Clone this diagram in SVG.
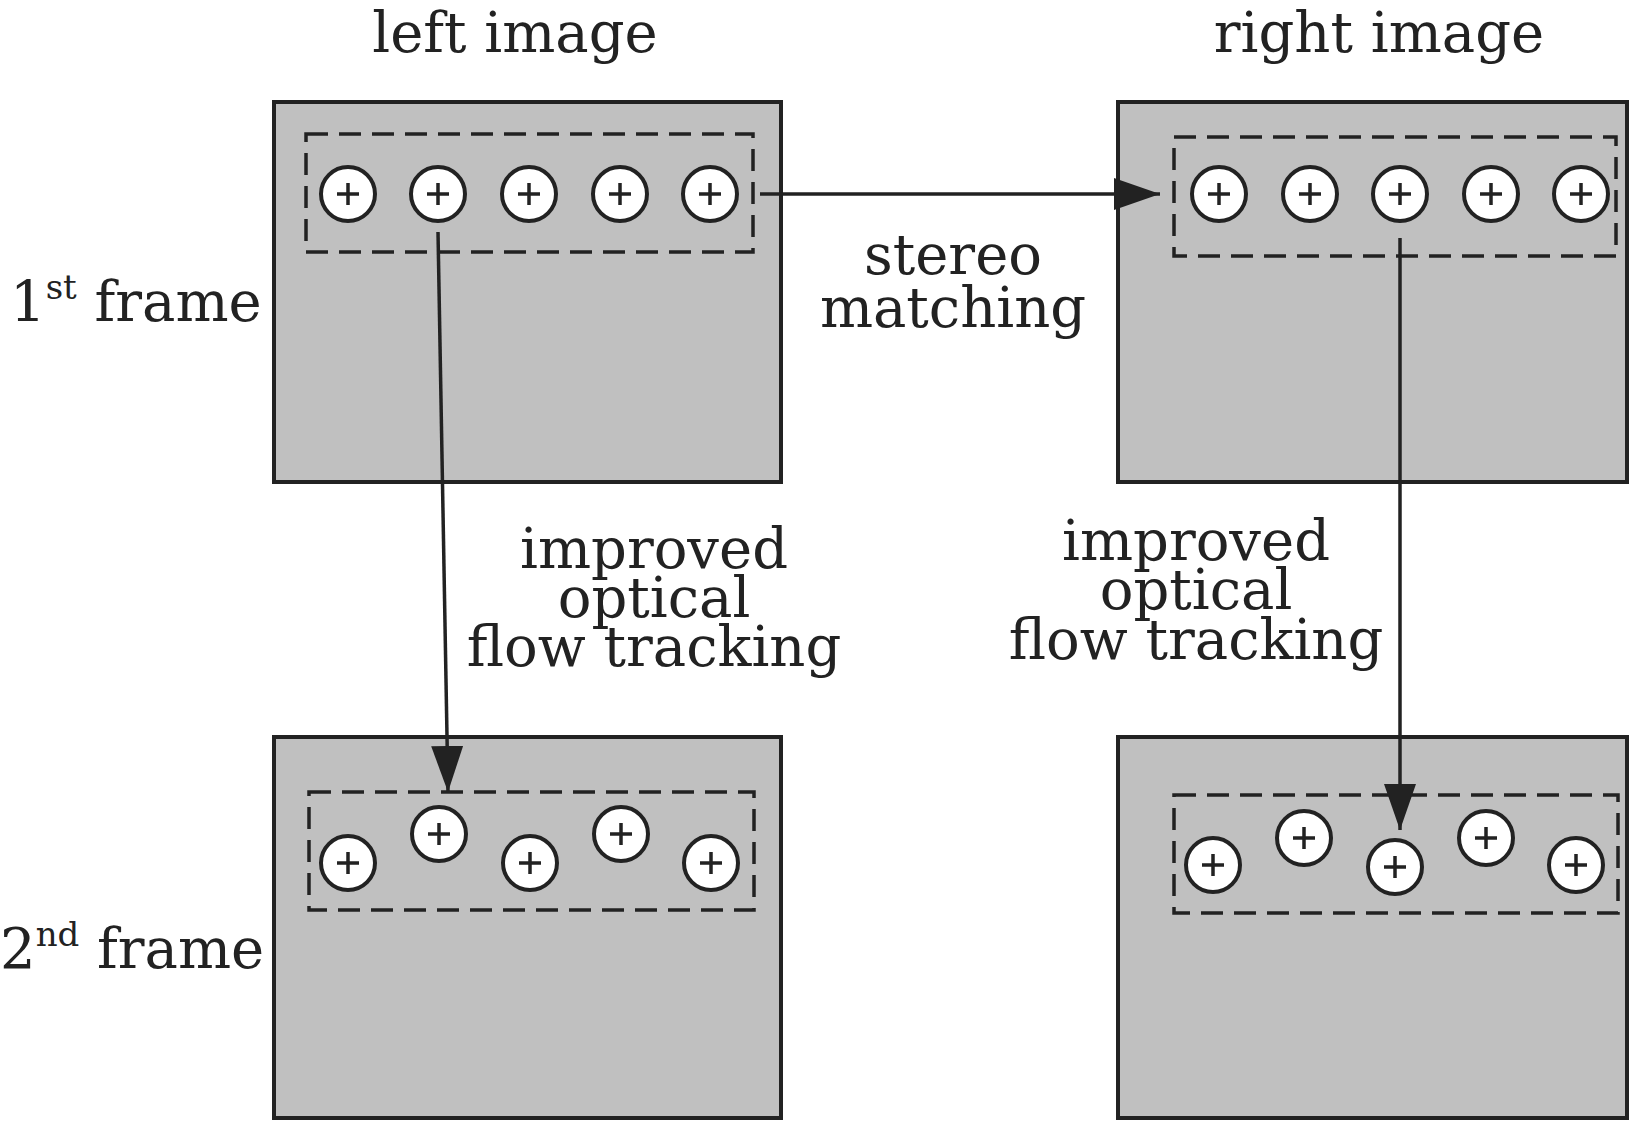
<svg xmlns="http://www.w3.org/2000/svg" width="1640" height="1128" viewBox="0 0 1640 1128">
<defs>
<style>
.box{fill:#c0c0c0;stroke:#222;stroke-width:4}
.dash{fill:none;stroke:#222;stroke-width:3.5;stroke-dasharray:22,11}
.c{fill:#fff;stroke:#222;stroke-width:4}
.p{stroke:#222;stroke-width:3.5}
text{font-family:"DejaVu Serif","Liberation Serif",serif;font-size:56px;fill:#222;text-anchor:middle}
.ln{stroke:#222;stroke-width:3.5;fill:none}
</style>
<marker id="ah" markerWidth="46" markerHeight="32" refX="46" refY="16" orient="auto" markerUnits="userSpaceOnUse" viewBox="0 0 46 32"><path d="M0,0 L46,16 L0,32z" fill="#222"/></marker>
<symbol id="pt" viewBox="-30 -30 60 60" overflow="visible"><circle class="c" r="27"/><path class="p" d="M-11,0H11M0,-11V11"/></symbol>
</defs>
<text x="515" y="52">left image</text>
<text x="1379" y="52">right image</text>
<text x="10" y="321" style="text-anchor:start">1<tspan font-size="34" dy="-22">st</tspan><tspan dy="22"> frame</tspan></text>
<text x="0" y="968" style="text-anchor:start">2<tspan font-size="34" dy="-22">nd</tspan><tspan dy="22"> frame</tspan></text>
<g id="lt"><rect class="box" x="274" y="102" width="507" height="380"/><rect class="dash" x="306" y="134" width="447" height="118"/>
<use href="#pt" x="318" y="164" width="60" height="60"/><use href="#pt" x="408" y="164" width="60" height="60"/><use href="#pt" x="499" y="164" width="60" height="60"/><use href="#pt" x="590" y="164" width="60" height="60"/><use href="#pt" x="680" y="164" width="60" height="60"/></g>
<g id="rt"><rect class="box" x="1118" y="102" width="509" height="380"/><rect class="dash" x="1174" y="137" width="442" height="119"/>
<use href="#pt" x="1189" y="164" width="60" height="60"/><use href="#pt" x="1280" y="164" width="60" height="60"/><use href="#pt" x="1370" y="164" width="60" height="60"/><use href="#pt" x="1461" y="164" width="60" height="60"/><use href="#pt" x="1551" y="164" width="60" height="60"/></g>
<g id="lb"><rect class="box" x="274" y="737" width="507" height="381"/><rect class="dash" x="309" y="792" width="445" height="118"/>
<use href="#pt" x="318" y="833" width="60" height="60"/><use href="#pt" x="409" y="804" width="60" height="60"/><use href="#pt" x="500" y="833" width="60" height="60"/><use href="#pt" x="591" y="804" width="60" height="60"/><use href="#pt" x="681" y="833" width="60" height="60"/></g>
<g id="rb"><rect class="box" x="1118" y="737" width="509" height="381"/><rect class="dash" x="1174" y="795" width="444" height="118"/>
<use href="#pt" x="1183" y="835" width="60" height="60"/><use href="#pt" x="1274" y="808" width="60" height="60"/><use href="#pt" x="1365" y="837" width="60" height="60"/><use href="#pt" x="1456" y="808" width="60" height="60"/><use href="#pt" x="1546" y="835" width="60" height="60"/></g>
<g id="connectors">
<line class="ln" x1="760" y1="194" x2="1160" y2="194" marker-end="url(#ah)"/>
<line class="ln" x1="438" y1="232" x2="448" y2="792" marker-end="url(#ah)"/>
<line class="ln" x1="1400" y1="238" x2="1400" y2="830" marker-end="url(#ah)"/>
</g>
<text x="953" y="274">stereo</text><text x="953" y="327">matching</text>
<text x="654" y="568">improved</text><text x="654" y="617">optical</text><text x="654" y="666">flow tracking</text>
<text x="1196" y="560">improved</text><text x="1196" y="609">optical</text><text x="1196" y="659">flow tracking</text>
</svg>
